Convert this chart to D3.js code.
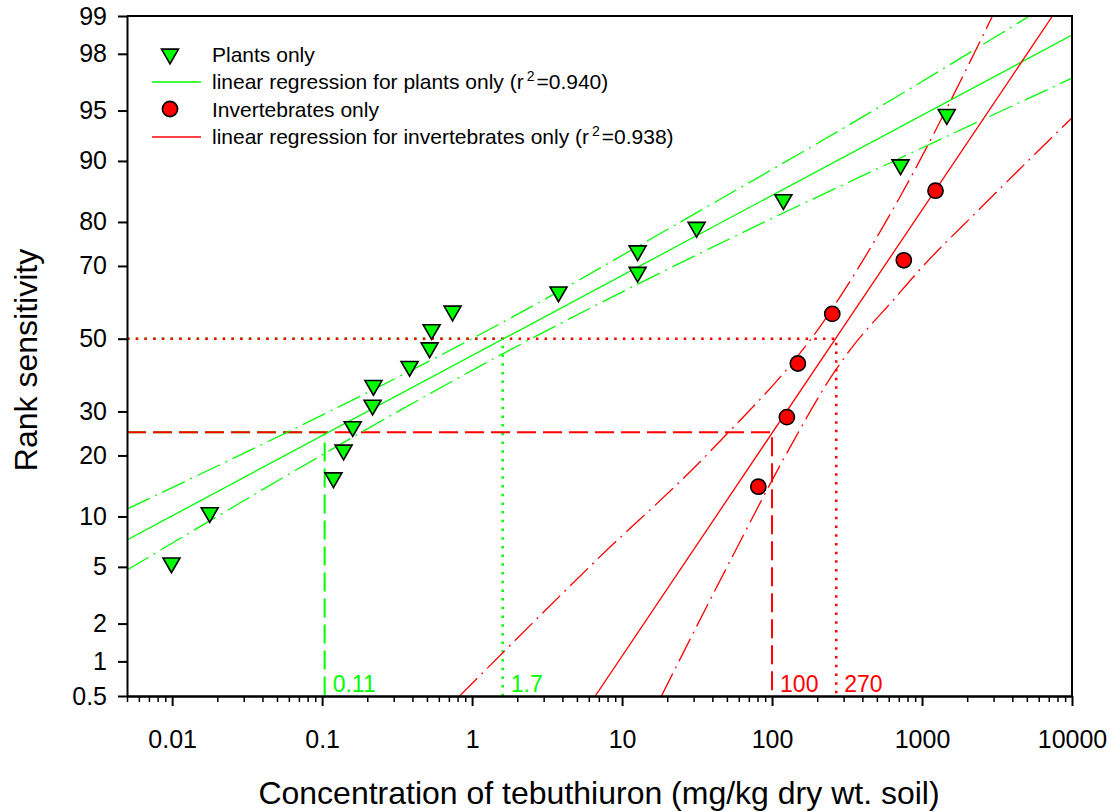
<!DOCTYPE html>
<html>
<head>
<meta charset="utf-8">
<script src="https://d3js.org/d3.v7.min.js"></script>
<style>
  body { margin: 0; background: white; }
  svg { font-family: "Liberation Sans", Arial, sans-serif; }
  .axis path, .axis line { stroke: black; stroke-width: 2; }
  .axis text { fill: black; font-size: 25px; }
  .minor line { stroke: black; stroke-width: 1.5; }
</style>
</head>
<body>
<svg id="chart" width="1113" height="812"></svg>
<script>
// plants: concentration (mg/kg) and rank sensitivity (%)
var plantConc = [0.0099, 0.0178, 0.119, 0.139, 0.160, 0.217, 0.220, 0.383, 0.521, 0.537,
                 0.741, 3.77, 12.7, 12.7, 31.4, 119, 719, 1462];
var plantRank = [5.3, 10.5, 15.8, 21.1, 26.3, 31.6, 36.8, 42.1, 47.4, 52.6,
                 57.9, 63.2, 68.4, 73.7, 78.9, 84.2, 89.5, 94.7];

// invertebrates
var invConc = [81.0, 125.5, 148.6, 252, 756, 1230];
var invRank = [14.3, 28.6, 42.9, 57.1, 71.4, 85.7];

// regression lines and confidence bands, [conc, rank %]
var plantFit   = [[0.005, 7.34], [10000, 98.57]];
var plantUpper = [[0.005, 10.97], [2.07, 57.3], [27.3, 80.8], [708, 96.05], [5208, 99]];
var plantLower = [[0.005, 4.77], [2.07, 48.2], [86.4, 79.8], [636, 89.9], [10000, 96.98]];
var invFit     = [[6.62, 0.5], [7413, 99]];
var invUpper   = [[0.825, 0.5], [6.76, 5.53], [38.3, 20.7], [217, 54.5], [636, 82.3], [2951, 99]];
var invLower   = [[18.3, 0.5], [52.1, 5.37], [130.8, 21.5], [261, 40.6], [312, 45.3],
                  [673, 61.9], [962, 68.98], [2417, 82.5], [10000, 94.44]];

var plantHC = [{pct: 25, conc: 0.104, label: "0.11", style: "dash"},
               {pct: 50, conc: 1.6,   label: "1.7",  style: "dot"}];
var invHC   = [{pct: 25, conc: 100,   label: "100",  style: "dash"},
               {pct: 50, conc: 268,   label: "270",  style: "dot"}];

var yTicks = [0.5, 1, 2, 5, 10, 20, 30, 50, 70, 80, 90, 95, 98, 99];
var xTicks = [0.01, 0.1, 1, 10, 100, 1000, 10000];
var xTickLabels = ["0.01", "0.1", "1", "10", "100", "1000", "10000"];

var green = "#00ff00", red = "#ff0000";

// inverse normal cdf (Acklam) for the probability axis
function probit(p) {
  var a = [-39.69683028665376, 220.9460984245205, -275.9285104469687, 138.3577518672690, -30.66479806614716, 2.506628277459239];
  var b = [-54.47609879822406, 161.5858368580409, -155.6989798598866, 66.80131188771972, -13.28068155288572];
  var c = [-0.007784894002430293, -0.3223964580411365, -2.400758277161838, -2.549732539343734, 4.374664141464968, 2.938163982698783];
  var d = [0.007784695709041462, 0.3224671290700398, 2.445134137142996, 3.754408661907416];
  var q, r;
  if (p < 0.02425) {
    q = Math.sqrt(-2 * Math.log(p));
    return (((((c[0]*q+c[1])*q+c[2])*q+c[3])*q+c[4])*q+c[5]) / ((((d[0]*q+d[1])*q+d[2])*q+d[3])*q+1);
  }
  if (p <= 1 - 0.02425) {
    q = p - 0.5; r = q * q;
    return (((((a[0]*r+a[1])*r+a[2])*r+a[3])*r+a[4])*r+a[5])*q / (((((b[0]*r+b[1])*r+b[2])*r+b[3])*r+b[4])*r+1);
  }
  q = Math.sqrt(-2 * Math.log(1 - p));
  return -(((((c[0]*q+c[1])*q+c[2])*q+c[3])*q+c[4])*q+c[5]) / ((((d[0]*q+d[1])*q+d[2])*q+d[3])*q+1);
}

var pLeft = 127, pRight = 1072, pTop = 16, pBottom = 696;
var svg = d3.select("#chart");

var x = d3.scaleLog().domain([0.005, 10000]).range([pLeft, pRight]);
var yz = d3.scaleLinear().domain([probit(0.005), probit(0.99)]).range([pBottom, pTop]);
function y(pct) { return yz(probit(pct / 100)); }

svg.append("clipPath").attr("id", "plotclip")
  .append("rect").attr("x", pLeft).attr("y", pTop)
  .attr("width", pRight - pLeft).attr("height", pBottom - pTop);

var plot = svg.append("g").attr("clip-path", "url(#plotclip)");

// reference lines for HC values
function drawHC(list, color) {
  list.forEach(function(h) {
    var dash = h.style == "dash" ? "19,7" : "2.5,6.2";
    var w = h.style == "dash" ? 2 : 2.5;
    plot.append("path")
      .attr("d", "M" + pLeft + "," + y(h.pct) + "H" + x(h.conc) + "V" + pBottom)
      .attr("fill", "none").attr("stroke", color)
      .attr("stroke-width", w).attr("stroke-dasharray", dash);
  });
}
drawHC(plantHC, green);
drawHC(invHC, red);

var line = d3.line()
  .x(function(d) { return x(d[0]); })
  .y(function(d) { return y(d[1]); })
  .curve(d3.curveMonotoneX);

function drawLine(data, color, dash) {
  plot.append("path").datum(data)
    .attr("d", line)
    .attr("fill", "none").attr("stroke", color)
    .attr("stroke-width", 1.3)
    .attr("stroke-dasharray", dash);
}
drawLine(plantFit, green, null);
drawLine(plantUpper, green, "25,6,2,6");
drawLine(plantLower, green, "25,6,2,6");
drawLine(invFit, red, null);
drawLine(invUpper, red, "25,6,2,6");
drawLine(invLower, red, "25,6,2,6");

// HC labels
plantHC.concat(invHC).forEach(function(h, i) {
  svg.append("text")
    .attr("x", x(h.conc) + 8).attr("y", pBottom - 4)
    .attr("fill", i < plantHC.length ? green : red)
    .style("font-size", "23px")
    .text(h.label);
});

// points
var tri = d3.symbol().type(d3.symbolTriangle).size(125);
svg.append("g").selectAll("path")
  .data(plantConc)
  .enter().append("path")
    .attr("d", tri)
    .attr("transform", function(d, i) { return "translate(" + x(d) + "," + y(plantRank[i]) + ") rotate(180)"; })
    .attr("fill", green).attr("stroke", "black").attr("stroke-width", 1.6);

svg.append("g").selectAll("circle")
  .data(invConc)
  .enter().append("circle")
    .attr("cx", function(d) { return x(d); })
    .attr("cy", function(d, i) { return y(invRank[i]); })
    .attr("r", 7.6)
    .attr("fill", red).attr("stroke", "black").attr("stroke-width", 1.6);

// axes
svg.append("g").attr("class", "axis")
  .attr("transform", "translate(" + pLeft + ",0)")
  .call(d3.axisLeft(yz)
    .tickValues(yTicks.map(function(p) { return probit(p / 100); }))
    .tickFormat(function(d, i) { return yTicks[i]; })
    .tickSize(9).tickSizeOuter(0).tickPadding(11));

var minor = [];
[0.001, 0.01, 0.1, 1, 10, 100, 1000].forEach(function(dec) {
  for (var k = 2; k <= 9; k++) {
    var v = dec * k;
    if (v >= 0.005 && v <= 10000) minor.push(v);
  }
});
svg.append("g").attr("class", "axis minor")
  .attr("transform", "translate(0," + pBottom + ")")
  .call(d3.axisBottom(x).tickValues(minor).tickFormat("").tickSize(6).tickSizeOuter(0));

svg.append("g").attr("class", "axis")
  .attr("transform", "translate(0," + pBottom + ")")
  .call(d3.axisBottom(x)
    .tickValues(xTicks)
    .tickFormat(function(d, i) { return xTickLabels[i]; })
    .tickSize(10).tickSizeOuter(0).tickPadding(24));

// frame
svg.append("path")
  .attr("d", "M" + pLeft + "," + pTop + "H" + pRight + "V" + pBottom)
  .attr("fill", "none").attr("stroke", "black").attr("stroke-width", 2);

// titles
svg.append("text")
  .attr("x", 599).attr("y", 804)
  .attr("text-anchor", "middle")
  .style("font-size", "32px")
  .text("Concentration of tebuthiuron (mg/kg dry wt. soil)");

svg.append("text")
  .attr("transform", "translate(37,360) rotate(-90)")
  .attr("text-anchor", "middle")
  .style("font-size", "32px")
  .text("Rank sensitivity");

// legend
var lg = svg.append("g").style("font-size", "21px");
lg.append("path").attr("d", tri).attr("transform", "translate(170,54) rotate(180)")
  .attr("fill", green).attr("stroke", "black").attr("stroke-width", 1.6);
lg.append("text").attr("x", 212).attr("y", 62).text("Plants only");
lg.append("line").attr("x1", 152).attr("x2", 201).attr("y1", 82).attr("y2", 82)
  .attr("stroke", green).attr("stroke-width", 1.3);
var t1 = lg.append("text").attr("x", 212).attr("y", 89).text("linear regression for plants only (r");
t1.append("tspan").attr("dx", 3).attr("dy", -8).style("font-size", "14px").text("2");
t1.append("tspan").attr("dx", 2).attr("dy", 8).text("=0.940)");
lg.append("circle").attr("cx", 170).attr("cy", 109).attr("r", 7.6)
  .attr("fill", red).attr("stroke", "black").attr("stroke-width", 1.6);
lg.append("text").attr("x", 212).attr("y", 117).text("Invertebrates only");
lg.append("line").attr("x1", 152).attr("x2", 201).attr("y1", 137).attr("y2", 137)
  .attr("stroke", red).attr("stroke-width", 1.3);
var t2 = lg.append("text").attr("x", 212).attr("y", 144).text("linear regression for invertebrates only (r");
t2.append("tspan").attr("dx", 3).attr("dy", -8).style("font-size", "14px").text("2");
t2.append("tspan").attr("dx", 2).attr("dy", 8).text("=0.938)");
</script>
</body>
</html>
